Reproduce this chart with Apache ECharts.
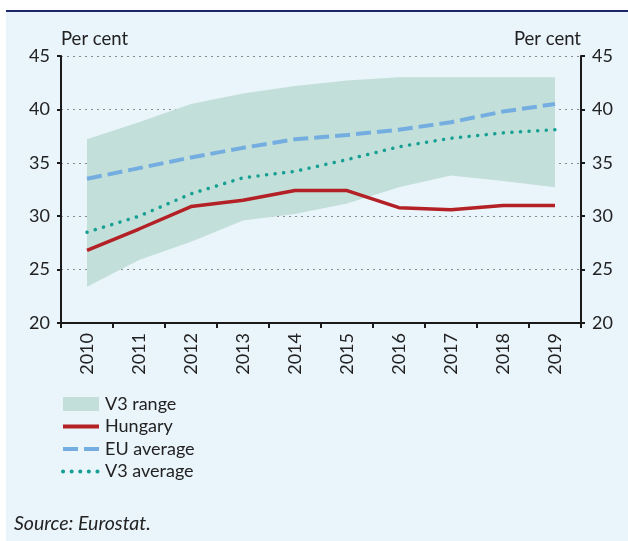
<!DOCTYPE html>
<html>
<head>
<meta charset="utf-8">
<script src="https://cdn.jsdelivr.net/npm/echarts@6/dist/echarts.min.js"></script>
<style>
  html, body { margin: 0; padding: 0; background: #ffffff; }
  #chart { width: 628px; height: 541px; }
</style>
</head>
<body>
<div id="chart"></div>
<script>
// Years on the category axis
var years = ['2010', '2011', '2012', '2013', '2014', '2015', '2016', '2017', '2018', '2019'];
// Per cent values
var hungary   = [26.8, 28.8, 30.9, 31.5, 32.4, 32.4, 30.8, 30.6, 31.0, 31.0];
var euAverage = [33.5, 34.5, 35.5, 36.4, 37.2, 37.6, 38.1, 38.8, 39.8, 40.5];
var v3Average = [28.5, 30.0, 32.1, 33.6, 34.2, 35.3, 36.5, 37.3, 37.8, 38.1];
var v3Low     = [23.4, 25.9, 27.6, 29.6, 30.2, 31.2, 32.7, 33.8, 33.3, 32.7];
var v3High    = [37.2, 38.8, 40.5, 41.5, 42.2, 42.7, 43.0, 43.0, 43.0, 43.0];
var yTicks    = [20, 25, 30, 35, 40, 45];

// Band thickness stacked on top of the lower bound
var v3Span = v3High.map(function (h, i) { return +(h - v3Low[i]).toFixed(2); });

var FONT = 'Lato';
var TEXT = '#222222';
var RED = '#b32025', BLUE = '#74ade0', TEAL = '#16a093', BAND = '#c3dfd9';

var chart = echarts.init(document.getElementById('chart'), null, { renderer: 'canvas' });

var yAxisBase = {
  type: 'value',
  min: yTicks[0],
  max: yTicks[yTicks.length - 1],
  interval: 5,
  name: 'Per cent',
  nameGap: 7,
  axisLine: { show: true, lineStyle: { color: '#1a1a1a', width: 2 } },
  axisTick: { show: true, length: 4, lineStyle: { color: '#1a1a1a', width: 2 } },
  axisLabel: { fontFamily: FONT, fontSize: 18, color: TEXT, margin: 11 }
};

chart.setOption({
  backgroundColor: 'transparent',
  animation: false,
  graphic: [
    { type: 'rect', z: -10, silent: true, shape: { x: 6, y: 12, width: 622, height: 529 }, style: { fill: '#e9f4fb' } },
    { type: 'line', z: 10, silent: true, shape: { x1: 6, y1: 11, x2: 628, y2: 11 }, style: { stroke: '#1d2667', lineWidth: 2 } },
    { type: 'text', left: 14, top: 514, style: { text: 'Source: Eurostat.', fontFamily: FONT, fontStyle: 'italic', fontSize: 19.5, fill: TEXT } }
  ],
  grid: { left: 61, right: 47, top: 56, bottom: 218, containLabel: false },
  legend: {
    orient: 'vertical',
    left: 61,
    top: 395,
    padding: 0,
    itemWidth: 36,
    itemHeight: 14,
    itemGap: 4.5,
    textStyle: { fontFamily: FONT, fontSize: 18, color: TEXT, padding: [0, 0, 0, 1] },
    data: [
      { name: 'V3 range', icon: 'rect', itemStyle: { color: BAND } },
      { name: 'Hungary', itemStyle: { opacity: 0 }, lineStyle: { width: 4 } },
      { name: 'EU average', itemStyle: { opacity: 0 }, lineStyle: { width: 4 } },
      { name: 'V3 average', itemStyle: { opacity: 0 }, lineStyle: { width: 4 } }
    ]
  },
  xAxis: {
    type: 'category',
    data: years,
    boundaryGap: true,
    axisLine: { lineStyle: { color: '#1a1a1a', width: 2 } },
    axisTick: { show: true, length: 5, lineStyle: { color: '#1a1a1a', width: 2 } },
    axisLabel: { rotate: 90, fontFamily: FONT, fontSize: 18, color: TEXT, margin: 10 }
  },
  yAxis: [
    Object.assign({}, yAxisBase, {
      position: 'left',
      nameTextStyle: { fontFamily: FONT, fontSize: 18.5, color: TEXT, align: 'left' },
      splitLine: { show: true, lineStyle: { color: '#8a8a8a', type: [2, 4], width: 1 } }
    }),
    Object.assign({}, yAxisBase, {
      position: 'right',
      nameTextStyle: { fontFamily: FONT, fontSize: 18.5, color: TEXT, align: 'right' },
      splitLine: { show: false }
    })
  ],
  series: [
    {
      name: 'V3 low', type: 'line', stack: 'v3', data: v3Low, symbol: 'none',
      lineStyle: { opacity: 0 }, areaStyle: { opacity: 0 }, silent: true, z: 1
    },
    {
      name: 'V3 range', type: 'line', stack: 'v3', data: v3Span, symbol: 'none',
      lineStyle: { opacity: 0, width: 0 }, itemStyle: { color: BAND },
      areaStyle: { color: BAND, opacity: 1 }, z: 1
    },
    {
      name: 'Hungary', type: 'line', data: hungary, symbol: 'none',
      itemStyle: { color: RED },
      lineStyle: { color: RED, width: 3.5 }, z: 5
    },
    {
      name: 'EU average', type: 'line', data: euAverage, symbol: 'none',
      itemStyle: { color: BLUE },
      lineStyle: { color: BLUE, width: 4, type: [15, 6] }, z: 4
    },
    {
      name: 'V3 average', type: 'line', data: v3Average, symbol: 'none',
      itemStyle: { color: TEAL },
      lineStyle: { color: TEAL, width: 3.5, type: [0.1, 8.5], cap: 'round' }, z: 4
    }
  ]
});
</script>
</body>
</html>
